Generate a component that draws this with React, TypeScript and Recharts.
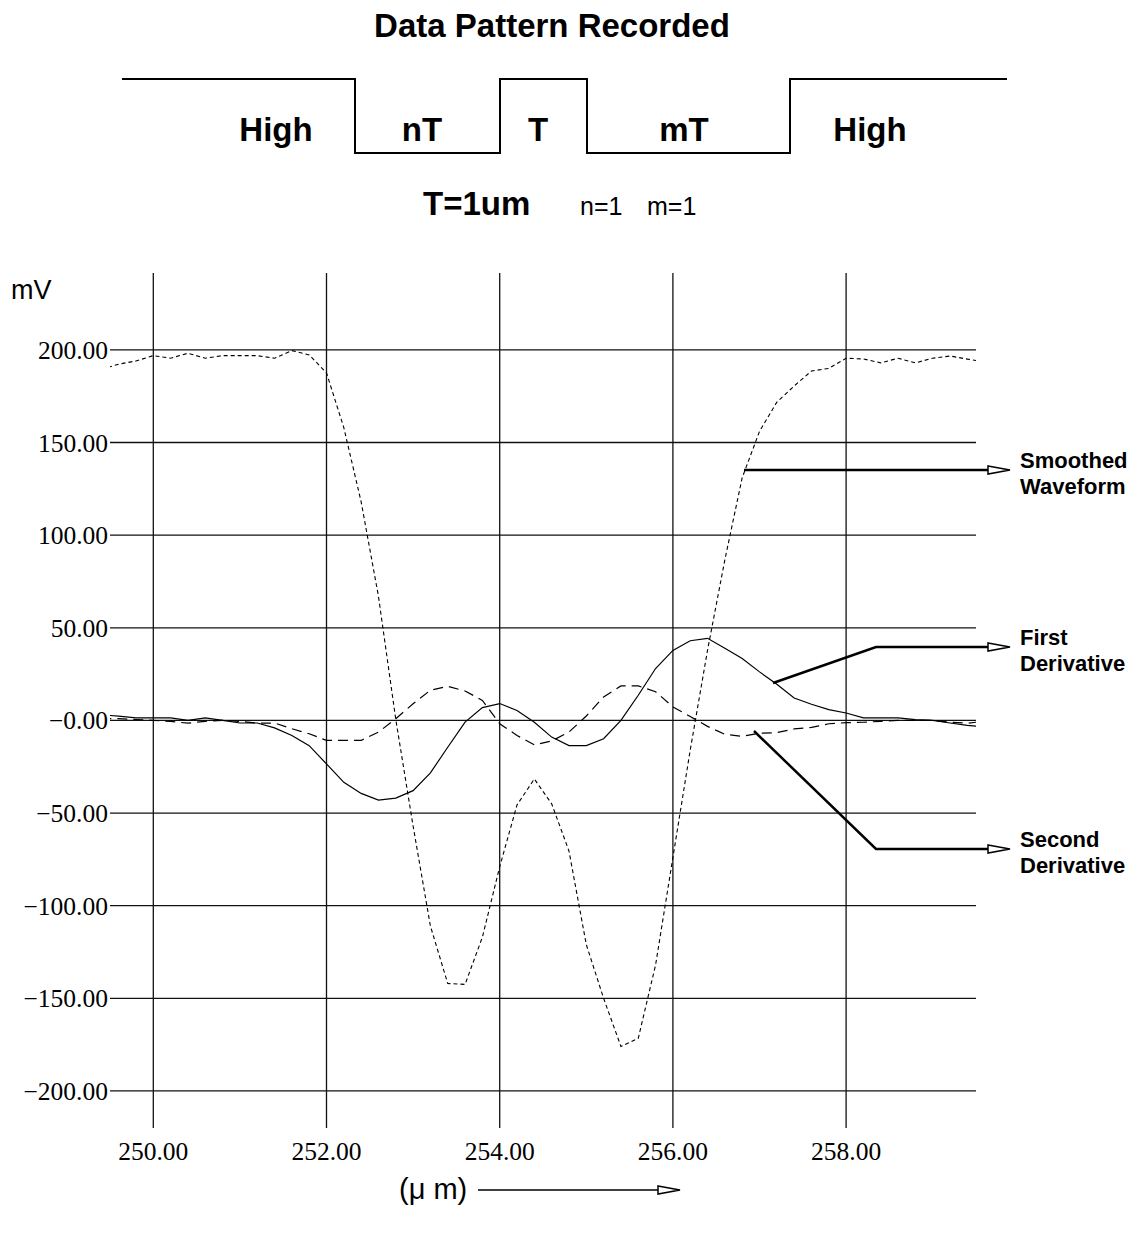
import { LineChart, Line, XAxis, YAxis, ReferenceLine } from "recharts";

// sample positions (um), one reading every 0.2 um
const positions = [
  249.4, 249.6, 249.8, 250.0, 250.2, 250.4, 250.6, 250.8, 251.0, 251.2,
  251.4, 251.6, 251.8, 252.0, 252.2, 252.4, 252.6, 252.8, 253.0, 253.2,
  253.4, 253.6, 253.8, 254.0, 254.2, 254.4, 254.6, 254.8, 255.0, 255.2,
  255.4, 255.6, 255.8, 256.0, 256.2, 256.4, 256.6, 256.8, 257.0, 257.2,
  257.4, 257.6, 257.8, 258.0, 258.2, 258.4, 258.6, 258.8, 259.0, 259.2,
  259.4, 259.6,
];

// mV
const smoothed = [
  189.5, 192.3, 194.0, 196.9, 195.5, 198.2, 195.5, 196.9, 196.9, 196.9,
  195.5, 199.6, 197.3, 187.6, 158.0, 118.0, 67.0, 0.5, -57.0, -111.0,
  -142.0, -142.5, -117.0, -79.0, -45.6, -31.6, -45.0, -70.5, -121.0, -150.0,
  -176.0, -171.6, -132.0, -74.0, -16.0, 37.9, 86.7, 131.0, 156.0, 171.8,
  180.5, 188.6, 190.0, 195.5, 195.1, 193.0, 195.5, 193.0, 195.5, 196.7,
  195.0, 193.5,
];

const firstDerivative = [
  3.0, 2.3, 1.4, 1.4, 1.4, 0.0, 1.4, 0.0, -1.4, -1.4,
  -4.0, -8.1, -13.6, -23.5, -33.4, -39.4, -43.0, -41.9, -37.9, -28.3,
  -14.5, -0.9, 6.9, 9.1, 5.4, -1.0, -9.0, -13.6, -13.6, -9.9,
  0.0, 13.6, 28.0, 37.8, 43.0, 44.3, 38.9, 33.4, 26.2, 19.5,
  12.1, 8.7, 5.8, 4.0, 1.4, 1.4, 1.4, 0.4, 0.0, -1.4,
  -2.7, -3.5,
];

const secondDerivative = [
  1.0, 1.0, 0.5, 0.0, -0.5, -1.5, -0.5, 0.0, -0.5, -1.5,
  -1.4, -4.5, -7.2, -10.8, -10.8, -10.8, -6.3, 0.9, 9.0, 16.3,
  18.4, 15.9, 10.8, -1.8, -8.1, -13.2, -11.1, -6.3, 2.4, 12.7,
  18.6, 18.6, 15.5, 7.3, 2.1, -3.2, -7.5, -8.6, -6.9, -6.6,
  -4.6, -3.8, -1.8, -1.2, -1.0, -0.5, 0.0, 0.0, 0.0, -1.0,
  -1.5, -0.5,
];

const xTicks = [250, 252, 254, 256, 258];
const yTicks = [-200, -150, -100, -50, 0, 50, 100, 150, 200];
const yTickLabels = [
  "\u2212200.00", "\u2212150.00", "\u2212100.00", "\u221250.00", "\u22120.00",
  "50.00", "100.00", "150.00", "200.00",
];

const pulseLabels = ["High", "nT", "T", "mT", "High"];
const seriesLabels = [
  ["Smoothed", "Waveform"],
  ["First", "Derivative"],
  ["Second", "Derivative"],
];

const data = positions.map((x, i) => ({
  x,
  smoothed: smoothed[i],
  first: firstDerivative[i],
  second: secondDerivative[i],
}));

const SANS = "'Liberation Sans', Arial, Helvetica, sans-serif";
const SERIF = "'Liberation Serif', 'Times New Roman', serif";

const tickStyle = { fontSize: 25.5, fill: "#000", fontFamily: SERIF };
const GRID = "#111";

// where the header pulse labels sit, and the pointer geometry (page px)
const pulseLabelX = [276, 422, 538, 684, 870];
const pointers = [
  { pts: "744,470 988,470", y: 470, textY: [468, 494] },
  { pts: "773,683 876,647 988,647", y: 647, textY: [645, 671] },
  { pts: "754,731 876,849 988,849", y: 849, textY: [847, 873] },
];

function Arrow({ x, y }: { x: number; y: number }) {
  return (
    <polygon
      points={`${x},${y - 4} ${x + 22},${y} ${x},${y + 4}`}
      fill="#fff"
      stroke="#000"
      strokeWidth={1.5}
    />
  );
}

export default function App() {
  return (
    <div
      style={{
        position: "absolute",
        left: 0,
        top: 0,
        width: 1143,
        height: 1243,
        background: "#fff",
      }}
    >
      <LineChart
        width={1143}
        height={1243}
        data={data}
        margin={{ top: 273, right: 167, bottom: 75, left: 0 }}
      >
        <XAxis
          dataKey="x"
          type="number"
          domain={[249.5, 259.5]}
          ticks={xTicks}
          interval={0}
          allowDataOverflow
          axisLine={false}
          tickLine={false}
          tickSize={0}
          tickMargin={14}
          height={40}
          tick={tickStyle}
          tickFormatter={(v: number) => v.toFixed(2)}
        />
        <YAxis
          type="number"
          domain={[-220, 241.5]}
          ticks={yTicks}
          interval={0}
          allowDataOverflow
          axisLine={false}
          tickLine={false}
          tickSize={0}
          tickMargin={2}
          width={110}
          tick={tickStyle}
          tickFormatter={(v: number) => yTickLabels[yTicks.indexOf(v)] ?? String(v)}
        />
        {yTicks.map((v) => (
          <ReferenceLine key={`h${v}`} y={v} stroke={GRID} strokeWidth={1.3} />
        ))}
        {xTicks.map((v) => (
          <ReferenceLine key={`v${v}`} x={v} stroke={GRID} strokeWidth={1.3} />
        ))}
        <Line
          type="linear"
          dataKey="smoothed"
          stroke="#000"
          strokeWidth={1.1}
          strokeDasharray="4 3"
          dot={false}
          activeDot={false}
          isAnimationActive={false}
        />
        <Line
          type="linear"
          dataKey="first"
          stroke="#000"
          strokeWidth={1.2}
          dot={false}
          activeDot={false}
          isAnimationActive={false}
        />
        <Line
          type="linear"
          dataKey="second"
          stroke="#000"
          strokeWidth={1.2}
          strokeDasharray="10 6"
          dot={false}
          activeDot={false}
          isAnimationActive={false}
        />
      </LineChart>

      <svg
        width={1143}
        height={1243}
        style={{ position: "absolute", left: 0, top: 0, pointerEvents: "none" }}
      >
        <text x={552} y={37} textAnchor="middle" fontFamily={SANS} fontWeight="bold" fontSize={33}>
          Data Pattern Recorded
        </text>

        <polyline
          points="122,79 355,79 355,153 500,153 500,79 587,79 587,153 790,153 790,79 1007,79"
          fill="none"
          stroke="#000"
          strokeWidth={2}
        />
        {pulseLabels.map((t, i) => (
          <text
            key={i}
            x={pulseLabelX[i]}
            y={141}
            textAnchor="middle"
            fontFamily={SANS}
            fontWeight="bold"
            fontSize={33}
          >
            {t}
          </text>
        ))}

        <text x={423} y={215} fontFamily={SANS} fontWeight="bold" fontSize={33}>
          T=1um
        </text>
        <text x={580} y={215} fontFamily={SANS} fontSize={25}>
          n=1
        </text>
        <text x={647} y={215} fontFamily={SANS} fontSize={25}>
          m=1
        </text>

        <text x={11} y={299} fontFamily={SANS} fontSize={27}>
          mV
        </text>

        {pointers.map((p, i) => (
          <g key={i}>
            <polyline points={p.pts} fill="none" stroke="#000" strokeWidth={2.5} />
            <Arrow x={988} y={p.y} />
            {seriesLabels[i].map((t, j) => (
              <text
                key={j}
                x={1020}
                y={p.textY[j]}
                fontFamily={SANS}
                fontWeight="bold"
                fontSize={22}
              >
                {t}
              </text>
            ))}
          </g>
        ))}

        <text x={399} y={1199} fontFamily={SANS} fontSize={29}>
          (μ m)
        </text>
        <line x1={478} y1={1190} x2={658} y2={1190} stroke="#000" strokeWidth={1.5} />
        <Arrow x={658} y={1190} />
      </svg>
    </div>
  );
}
